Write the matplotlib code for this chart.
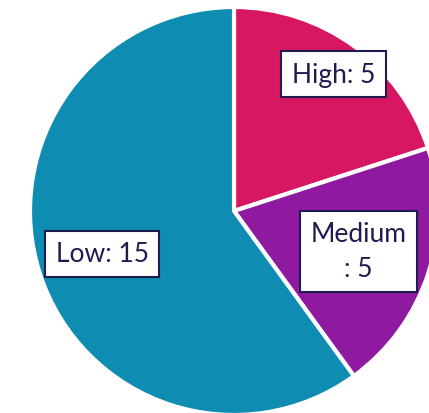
import matplotlib
matplotlib.use("Agg")
import matplotlib.pyplot as plt
import numpy as np

categories = ["High", "Medium", "Low"]
values = [5, 5, 15]
label_texts = ["High: 5", "Medium\n: 5", "Low: 15"]
colors = ["#D81763", "#8F19A1", "#0E8CB2"]
label_dist = [0.83, 0.64, 0.68]

W, H = 429, 414
fig = plt.figure(figsize=(W / 100, H / 100), dpi=100)
ax = fig.add_axes([0, 0, 1, 1])

cx, cy, R = 234, 202, 204
wedges, _ = ax.pie(values, colors=colors, startangle=90, counterclock=False,
                   center=(cx, cy), radius=R, frame=True,
                   wedgeprops=dict(edgecolor="white", linewidth=3))
ax.set_xlim(0, W)
ax.set_ylim(0, H)
ax.set_aspect("equal")
ax.axis("off")

total = sum(values)
start = 90.0
for v, txt, d in zip(values, label_texts, label_dist):
    span = 360.0 * v / total
    mid = np.deg2rad(start - span / 2)
    start -= span
    x = cx + d * R * np.cos(mid)
    y = cy + d * R * np.sin(mid)
    ax.text(x, y, txt, ha="center", va="center", fontsize=19, color="#1F1A4F",
            family=["Lato", "DejaVu Sans"], linespacing=1.5,
            bbox=dict(boxstyle="square,pad=0.4", facecolor="white",
                      edgecolor="#1F1A4F", linewidth=1.5))

fig.savefig("out.png", dpi=100)
